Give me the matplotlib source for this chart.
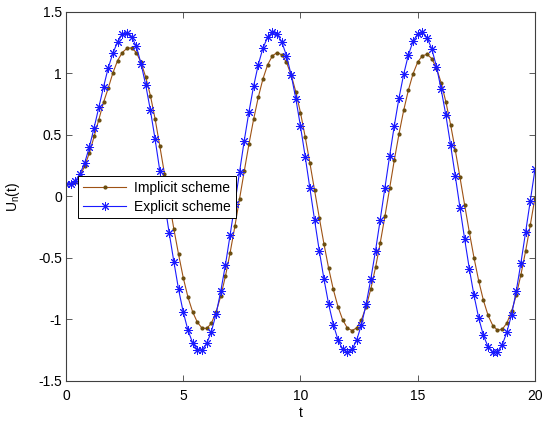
import numpy as np
import matplotlib
matplotlib.use("Agg")
import matplotlib.pyplot as plt
from matplotlib.ticker import FormatStrFormatter

# samples every 0.2 from t=0 to t=20 (101 points each)
u_implicit = [
    0.100, 0.102, 0.118, 0.165, 0.250, 0.355, 0.488, 0.625, 0.765, 0.880,
    1.005, 1.105, 1.170, 1.205, 1.208, 1.170, 1.090, 0.970, 0.820, 0.630,
    0.410, 0.185, -0.042, -0.265, -0.470, -0.660, -0.818, -0.938, -1.022, -1.070,
    -1.073, -1.030, -0.940, -0.810, -0.648, -0.456, -0.244, -0.021, 0.204, 0.424,
    0.627, 0.807, 0.957, 1.071, 1.143, 1.170, 1.152, 1.091, 0.990, 0.851,
    0.681, 0.485, 0.273, 0.051, -0.171, -0.385, -0.583, -0.756, -0.897, -1.003,
    -1.070, -1.090, -1.068, -1.002, -0.895, -0.751, -0.577, -0.378, -0.162, 0.065,
    0.295, 0.508, 0.700, 0.864, 0.998, 1.093, 1.145, 1.155, 1.121, 1.043,
    0.924, 0.769, 0.585, 0.378, 0.157, -0.069, -0.290, -0.499, -0.686, -0.844,
    -0.967, -1.049, -1.087, -1.081, -1.029, -0.935, -0.803, -0.636, -0.444, -0.232,
    -0.009,
]

u_explicit = [
    0.100, 0.103, 0.125, 0.185, 0.275, 0.405, 0.560, 0.725, 0.890, 1.045,
    1.165, 1.257, 1.320, 1.333, 1.297, 1.220, 1.080, 0.905, 0.700, 0.465,
    0.210, -0.050, -0.295, -0.530, -0.755, -0.940, -1.087, -1.190, -1.245, -1.247,
    -1.195, -1.098, -0.955, -0.770, -0.555, -0.312, -0.060, 0.198, 0.452, 0.686,
    0.896, 1.072, 1.207, 1.296, 1.335, 1.321, 1.258, 1.146, 0.990, 0.796,
    0.570, 0.325, 0.068, -0.190, -0.440, -0.670, -0.875, -1.041, -1.166, -1.243,
    -1.268, -1.243, -1.166, -1.041, -0.875, -0.670, -0.440, -0.188, 0.070, 0.328,
    0.575, 0.800, 0.993, 1.150, 1.262, 1.322, 1.334, 1.290, 1.200, 1.055,
    0.870, 0.660, 0.420, 0.168, -0.090, -0.345, -0.588, -0.805, -0.988, -1.130,
    -1.222, -1.268, -1.262, -1.208, -1.103, -0.962, -0.770, -0.540, -0.290, -0.035,
    0.220,
]

t_start, t_end = 0, 20
x_ticks = [0, 5, 10, 15, 20]
y_ticks = [-1.5, -1, -0.5, 0, 0.5, 1, 1.5]
labels = ["Implicit scheme", "Explicit scheme"]


def main():
    plt.rcParams['font.family'] = ['Liberation Sans', 'DejaVu Sans']
    plt.rcParams['font.size'] = 10
    plt.rcParams['mathtext.fontset'] = 'custom'
    plt.rcParams['mathtext.rm'] = 'Liberation Sans'
    plt.rcParams['mathtext.it'] = 'Liberation Sans'

    fig = plt.figure(figsize=(5.5, 4.22), dpi=100)
    ax = fig.add_axes([0.12, 0.0972, 0.8527, 0.8744])

    t = np.linspace(t_start, t_end, len(u_explicit))
    ax.plot(t, u_implicit, color=(0.62, 0.32, 0.08), lw=0.8,
            marker='.', markersize=4, markerfacecolor=(0.42, 0.3, 0.06),
            markeredgecolor=(0.42, 0.3, 0.06), label=labels[0])
    ax.plot(t, u_explicit, color=(0.1, 0.1, 1.0), lw=0.8,
            marker=(8, 2, 0), markersize=6.5, markeredgewidth=0.7,
            markeredgecolor=(0.1, 0.1, 1.0), label=labels[1])

    ax.set_xlim(t_start, t_end)
    ax.set_ylim(-1.5, 1.5)
    ax.set_xticks(x_ticks)
    ax.set_yticks(y_ticks)
    ax.yaxis.set_major_formatter(FormatStrFormatter('%g'))
    ax.tick_params(direction='in', length=4, width=0.6, color='#404040',
                   top=True, right=True, labelsize=10)
    ax.tick_params(axis='x', pad=6)
    ax.tick_params(axis='y', pad=3)
    for sp in ax.spines.values():
        sp.set_color('#404040')
        sp.set_linewidth(0.8)

    ax.set_xlabel('t', labelpad=2)
    ax.set_ylabel(r'$\mathregular{U_n(t)}$')
    ax.yaxis.set_label_coords(-0.094, 0.5)

    leg = ax.legend(loc='upper left', bbox_to_anchor=(0.026, 0.556),
                    borderaxespad=0, fancybox=False, framealpha=1,
                    edgecolor='black', handlelength=3.1, labelspacing=0.35,
                    borderpad=0.35, handletextpad=0.6, fontsize=10)
    leg.get_frame().set_linewidth(0.7)

    fig.savefig("out.png", dpi=100)


if __name__ == '__main__':
    main()
